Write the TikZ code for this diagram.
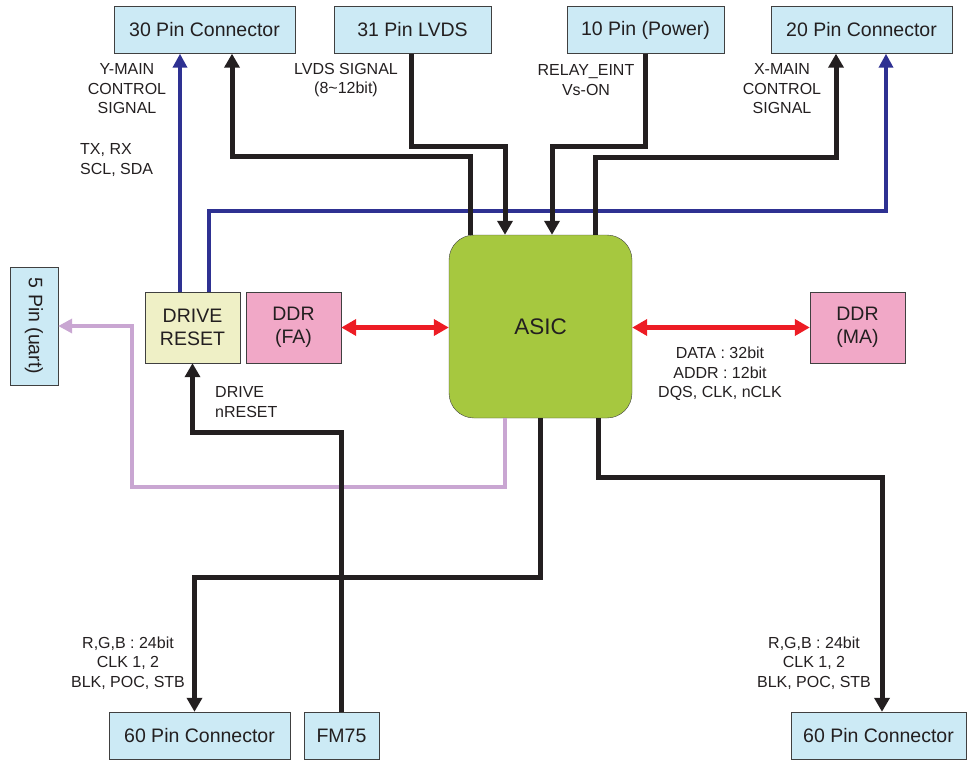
\documentclass[tikz,border=0pt]{standalone}
\usepackage{fontspec}
\setmainfont{Liberation Sans}
\usetikzlibrary{arrows.meta}

\definecolor{pinblue}{HTML}{CCEAF5}
\definecolor{rstyellow}{HTML}{EFF0C6}
\definecolor{ddrpink}{HTML}{F1A8C7}
\definecolor{asicgreen}{HTML}{A6C83F}
\definecolor{busblue}{HTML}{2E3192}
\definecolor{sigblack}{HTML}{231F20}
\definecolor{ddrred}{HTML}{ED1C24}
\definecolor{uartlilac}{HTML}{C9A6D2}

\begin{document}
\begin{tikzpicture}[x=1pt, y=-1pt,
    every node/.style={text=sigblack},
    blk/.style={draw=black!75, inner sep=0pt, font=\fontsize{19.5}{23}\selectfont, align=center},
    pinbox/.style={blk, fill=pinblue, minimum height=47pt},
    ddrbox/.style={blk, fill=ddrpink, minimum width=95pt, minimum height=71pt},
    lab/.style={font=\fontsize{16}{19.5}\selectfont, align=center, inner sep=0pt},
    sig/.style={draw=sigblack, line width=5pt, -{Triangle[length=14pt,width=15pt]}},
    bus/.style={draw=busblue, line width=4pt, -{Triangle[length=14pt,width=14pt]}},
    ddrbus/.style={draw=ddrred, line width=4.5pt, {Triangle[length=15pt,width=16pt]}-{Triangle[length=15pt,width=16pt]}},
    uart/.style={draw=uartlilac, line width=4pt, -{Triangle[length=14pt,width=14pt]}}]

\useasboundingbox (0,0) rectangle (968,760);

% boxes
\node[pinbox, minimum width=181pt] (pin30) at (204.5,30) {30 Pin Connector};
\node[pinbox, minimum width=157pt] (lvds) at (412.5,30) {31 Pin LVDS};
\node[pinbox, minimum width=157pt] (power) at (645.5,30) {10 Pin (Power)};
\node[pinbox, minimum width=181pt] (pin20) at (861.5,30) {20 Pin Connector};
\node[pinbox, minimum width=48pt, minimum height=118pt] (uart) at (34,326) {\rotatebox{-90}{5 Pin (uart)}};
\node[blk, fill=rstyellow, minimum width=95pt, minimum height=71pt] (drive) at (192.5,327.5) {DRIVE\\RESET};
\node[ddrbox] (ddrfa) at (293.5,327.5) {DDR\\(FA)};
\node[ddrbox] (ddrma) at (857.5,327.5) {DDR\\(MA)};
\node[blk, fill=asicgreen, rounded corners=25pt, minimum width=183pt, minimum height=183pt,
      font=\fontsize{22.5}{26}\selectfont] (asic) at (540.5,326.5) {ASIC};
\node[pinbox, minimum width=181pt] (pin60a) at (199.5,735.5) {60 Pin Connector};
\node[pinbox, minimum width=75pt] (fm75) at (341.5,735.5) {FM75};
\node[pinbox, minimum width=175pt] (pin60b) at (878.5,735.5) {60 Pin Connector};

% connectors
\draw[bus] ([xshift=-12.5pt]drive.north) -- ([xshift=-12.5pt]drive.north |- pin30.south);
\draw[bus] ([xshift=16pt]drive.north) -- ++(0,-81) -| ([xshift=24.5pt]pin20.south);
\draw[sig] ([xshift=-70.5pt]asic.north) -- ++(0,-78) -| ([xshift=27.5pt]pin30.south);
\draw[sig] ([xshift=-1.5pt]lvds.south) -- ++(0,93) -| ([xshift=-35.5pt]asic.north);
\draw[sig] (power.south) -- ++(0,93) -| ([xshift=11.5pt]asic.north);
\draw[sig] ([xshift=54.5pt]asic.north) -- ++(0,-77) -| ([xshift=-25.5pt]pin20.south);
\draw[ddrbus] (ddrfa.east) -- (ddrfa.east -| asic.west);
\draw[ddrbus] (asic.east |- ddrma.west) -- (ddrma.west);
\draw[uart] ([xshift=-35.5pt]asic.south) -- ++(0,69) -- ++(-373,0) |- (uart.east);
\draw[sig] (fm75.north) -- ++(0,-279) -| (drive.south);
\draw[sig] (asic.south) -- ++(0,159) -| ([xshift=-5pt]pin60a.north);
\draw[sig] ([xshift=57.5pt]asic.south) -- ++(0,59) -| ([xshift=3.5pt]pin60b.north);

% labels
\node[lab] (ylab) at (127,89) {Y-MAIN\\CONTROL\\SIGNAL};
\node[lab, anchor=west, align=left] (txlab) at (80,160) {TX, RX\\SCL, SDA};
\node[lab] (lvdslab) at (346,80) {LVDS SIGNAL\\(8\textasciitilde 12bit)};
\node[lab] (relaylab) at (586,80) {RELAY\_EINT\\Vs-ON};
\node[lab] (xlab) at (782,89) {X-MAIN\\CONTROL\\SIGNAL};
\node[lab, anchor=west, align=left] (nrstlab) at (215,402) {DRIVE\\nRESET};
\node[lab] (ddrlab) at (720,374) {DATA : 32bit\\ADDR : 12bit\\DQS, CLK, nCLK};
\node[lab] (rgblaba) at (128,663) {R,G,B : 24bit\\CLK 1, 2\\BLK, POC, STB};
\node[lab] (rgblabb) at (814,663) {R,G,B : 24bit\\CLK 1, 2\\BLK, POC, STB};
\end{tikzpicture}
\end{document}
